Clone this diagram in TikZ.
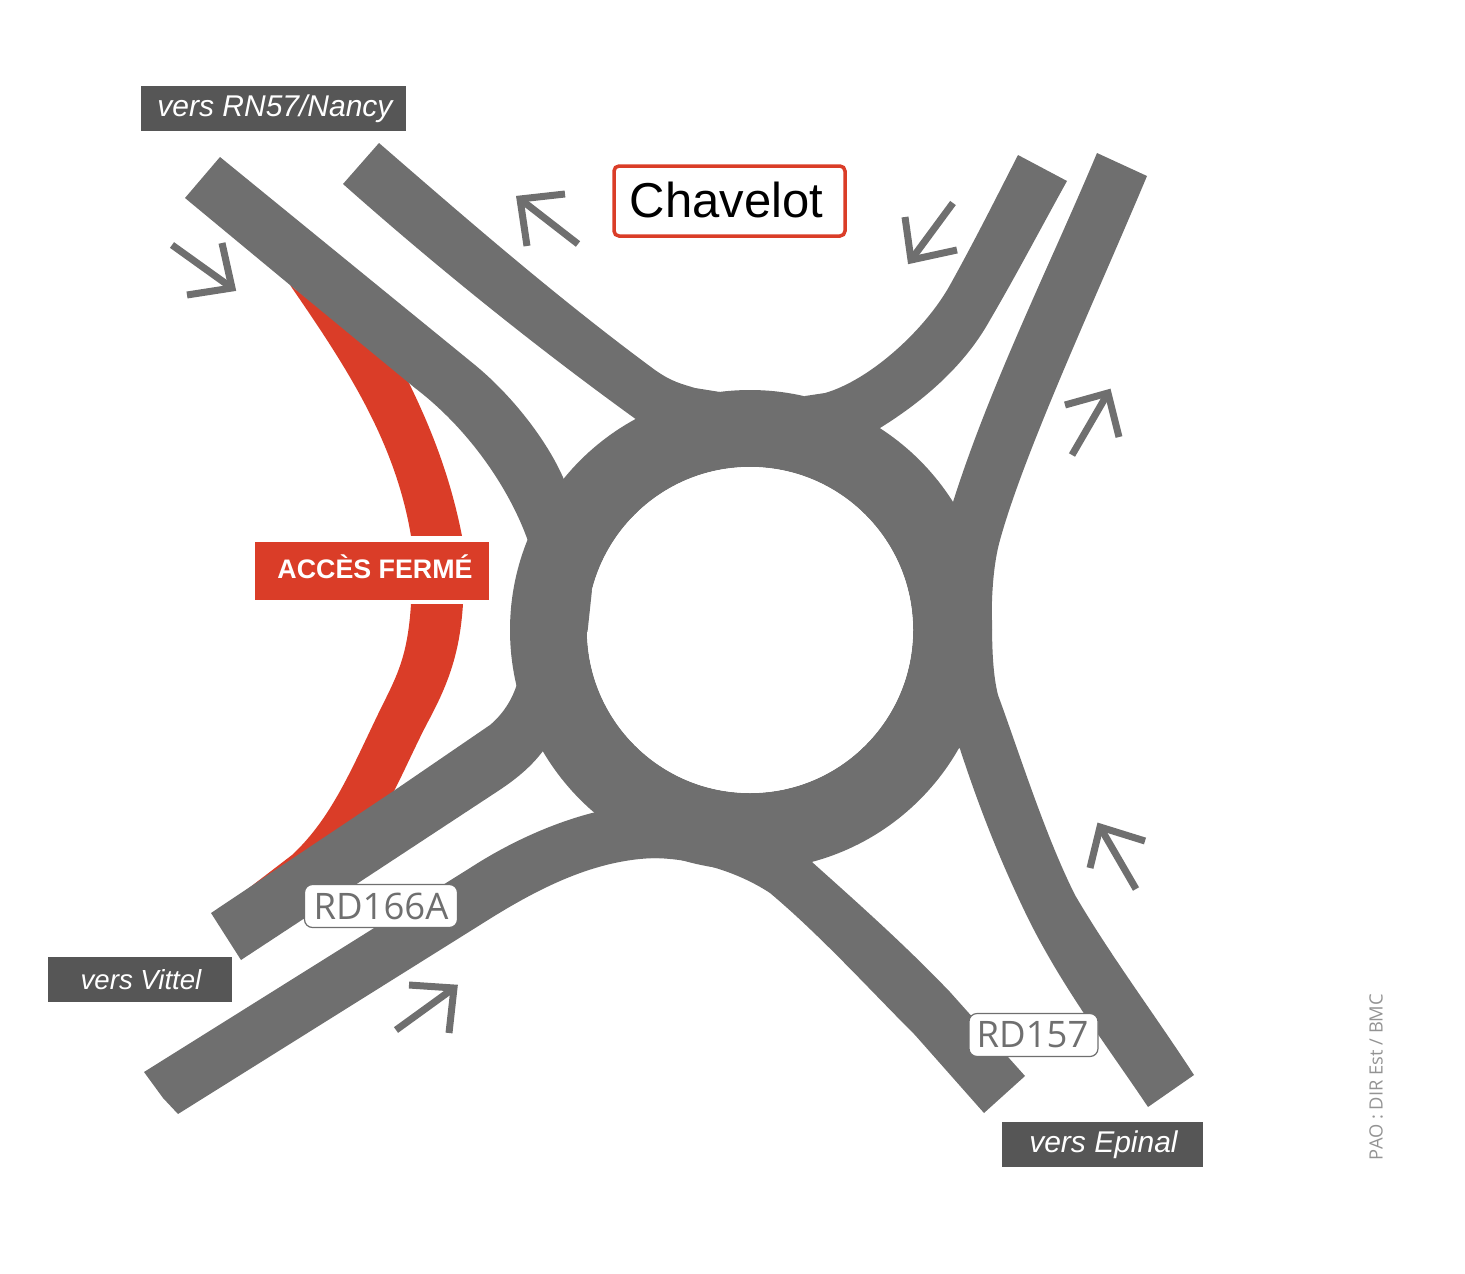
\documentclass[tikz,border=0pt]{standalone}
\usepackage{fontspec}
\setmainfont{Liberation Sans}
\newfontfamily\opensans{Open Sans}
\definecolor{road}{HTML}{6F6F6F}
\definecolor{plate}{HTML}{565656}
\definecolor{closed}{HTML}{DA3D28}
\tikzset{
  roadfill/.style={fill=road,draw=none},
  redfill/.style={fill=closed,draw=none},
  arrowmark/.style={draw=road,line width=7pt,line cap=butt,miter limit=10,fill=none},
  dirplate/.style={fill=plate,text=white,inner sep=0pt,anchor=center},
  rdplate/.style={fill=white,draw=road,line width=1.2pt,rounded corners=8pt,text=road,inner sep=0pt,font=\opensans\fontsize{36.5}{37}\selectfont,anchor=center},
}
\begin{document}
\begin{tikzpicture}[x=1pt,y=-1pt]
\useasboundingbox (0,0) rectangle (1465,1274);
% closed red branch
\fill[redfill] (290,285) .. controls (345,365) and (395,440) .. (411,536) -- (462,536)
  .. controls (450,475) and (430,425) .. (405,375) -- cycle;
\fill[redfill] (411,604) .. controls (408,650) and (400,670) .. (385,700)
  .. controls (355,760) and (335,815) .. (292,855) -- (245,891) -- (270,900) -- (392,795)
  .. controls (405,770) and (418,740) .. (430,718)
  .. controls (450,680) and (460,650) .. (463,604) -- cycle;
% ring
\draw[road,line width=77pt] (750,630) circle (201.5);
% road to Nancy (entry)
\fill[roadfill] (220,157) -- (475,365) .. controls (515,398) and (550,445) .. (565,482)
  -- (600,560) -- (528,560) -- (528,541) .. controls (510,490) and (470,430) .. (415,388)
  -- (290,285) -- (185,198) -- cycle;
% road to Nancy (exit)
\fill[roadfill] (379,143) .. controls (470,222) and (560,300) .. (655,370)
  .. controls (672,382) and (682,384) .. (695,388) -- (720,392) -- (700,430) -- (637,420)
  .. controls (540,350) and (440,270) .. (343,184) -- cycle;
% top right branch
\fill[roadfill] (1018,155) .. controls (995,200) and (975,240) .. (950,285)
  .. controls (925,330) and (870,380) .. (825,393) -- (805,396) -- (800,440) -- (880,428)
  .. controls (925,400) and (965,365) .. (990,320)
  .. controls (1018,272) and (1042,226) .. (1067,181) -- cycle;
% right-hand branch, upper
\fill[roadfill] (1097,153) .. controls (1050,265) and (990,385) .. (953,502)
  -- (940,560) -- (960,630) -- (992,630) .. controls (991,600) and (993,565) .. (1000,540)
  .. controls (1025,450) and (1095,300) .. (1147,176) -- cycle;
% right-hand branch, lower
\fill[roadfill] (992,620) .. controls (992,650) and (993,675) .. (998,695)
  .. controls (1020,755) and (1045,835) .. (1075,895)
  .. controls (1110,955) and (1155,1015) .. (1194,1075) -- (1148,1107)
  .. controls (1110,1050) and (1060,985) .. (1025,912)
  .. controls (1000,860) and (980,810) .. (960,749) -- (930,700) -- (960,620) -- cycle;
% road to Epinal
\fill[roadfill] (812,862) .. controls (860,905) and (905,945) .. (950,992) -- (1025,1076) -- (984,1113)
  -- (915,1035) .. controls (870,990) and (820,935) .. (770,893)
  .. controls (735,870) and (690,858) .. (650,858) -- (620,800) -- (760,830) -- cycle;
% bottom-left branch
\fill[roadfill] (596,812) .. controls (555,822) and (510,842) .. (470,868)
  -- (144,1072) -- (163,1098) -- (178,1114) -- (480,925)
  .. controls (535,890) and (595,858) .. (660,858) -- (650,800) -- cycle;
% road to Vittel
\fill[roadfill] (211,913) -- (395,790) -- (490,725)
  .. controls (503,714) and (512,700) .. (517,684) -- (560,690) -- (543,751)
  .. controls (530,768) and (515,780) .. (495,793) -- (241,960) -- cycle;
% white centre
\fill[white] (750,630) circle (163);
\fill[roadfill] (592,590) -- (587.5,632) -- (580,610) -- cycle;
% direction arrows
\draw[arrowmark] (172,245) -- (232,288);
\draw[arrowmark] (222,243) -- (232,288) -- (187,295);
\draw[arrowmark] (578,244) -- (520,199);
\draw[arrowmark] (565,194) -- (520,199) -- (527,246);
\draw[arrowmark] (953,203) -- (911,260);
\draw[arrowmark] (905,217) -- (911,260) -- (957,250);
\draw[arrowmark] (1072,455) -- (1108,393);
\draw[arrowmark] (1065,405) -- (1108,393) -- (1119,437);
\draw[arrowmark] (1136,889) -- (1100,827);
\draw[arrowmark] (1090,868) -- (1100,827) -- (1145,841);
\draw[arrowmark] (396,1030) -- (454,988);
\draw[arrowmark] (409,985) -- (454,988) -- (449,1033);
% labels
\node[dirplate,minimum width=265pt,minimum height=45pt,font=\itshape\fontsize{30}{30}\selectfont] (nancy) at (273.5,108.5) {\raisebox{-1pt}{\makebox[0pt]{\kern3pt vers RN57/Nancy}}};
\node[dirplate,minimum width=184pt,minimum height=45pt,font=\itshape\fontsize{27.6}{28}\selectfont] (vittel) at (140,979.5) {\makebox[0pt]{\kern2pt vers Vittel}};
\node[dirplate,minimum width=201pt,minimum height=45pt,font=\itshape\fontsize{30}{30}\selectfont] (epinal) at (1102.5,1144.5) {\makebox[0pt]{\kern2pt vers Epinal}};
\node[draw=closed,line width=3.5pt,rounded corners=5pt,fill=white,minimum width=231pt,minimum height=70pt,inner sep=0pt,font=\fontsize{49}{49}\selectfont] (chavelot) at (729.5,201) {\raisebox{3pt}{\makebox[0pt]{\kern-6pt Chavelot}}};
\fill[white] (250,536) rectangle (494,604);
\node[fill=closed,text=white,minimum width=234pt,minimum height=58pt,inner sep=0pt,font=\bfseries\fontsize{26.8}{27}\selectfont] (closedlabel) at (372,570.5) {\raisebox{8pt}{\makebox[0pt]{\kern6pt ACCÈS FERMÉ}}};
\node[rdplate,minimum width=153pt,minimum height=43pt] (rda) at (381,906) {\makebox[0pt]{RD166A}};
\node[rdplate,minimum width=129pt,minimum height=43pt] (rdb) at (1033.5,1035) {\makebox[0pt]{\kern-2pt RD157}};
\node[rotate=90,text=road!75,inner sep=0pt,font=\opensans\fontsize{18.3}{19}\selectfont] (credit) at (1376,1077) {PAO : DIR Est / BMC};
\end{tikzpicture}
\end{document}
